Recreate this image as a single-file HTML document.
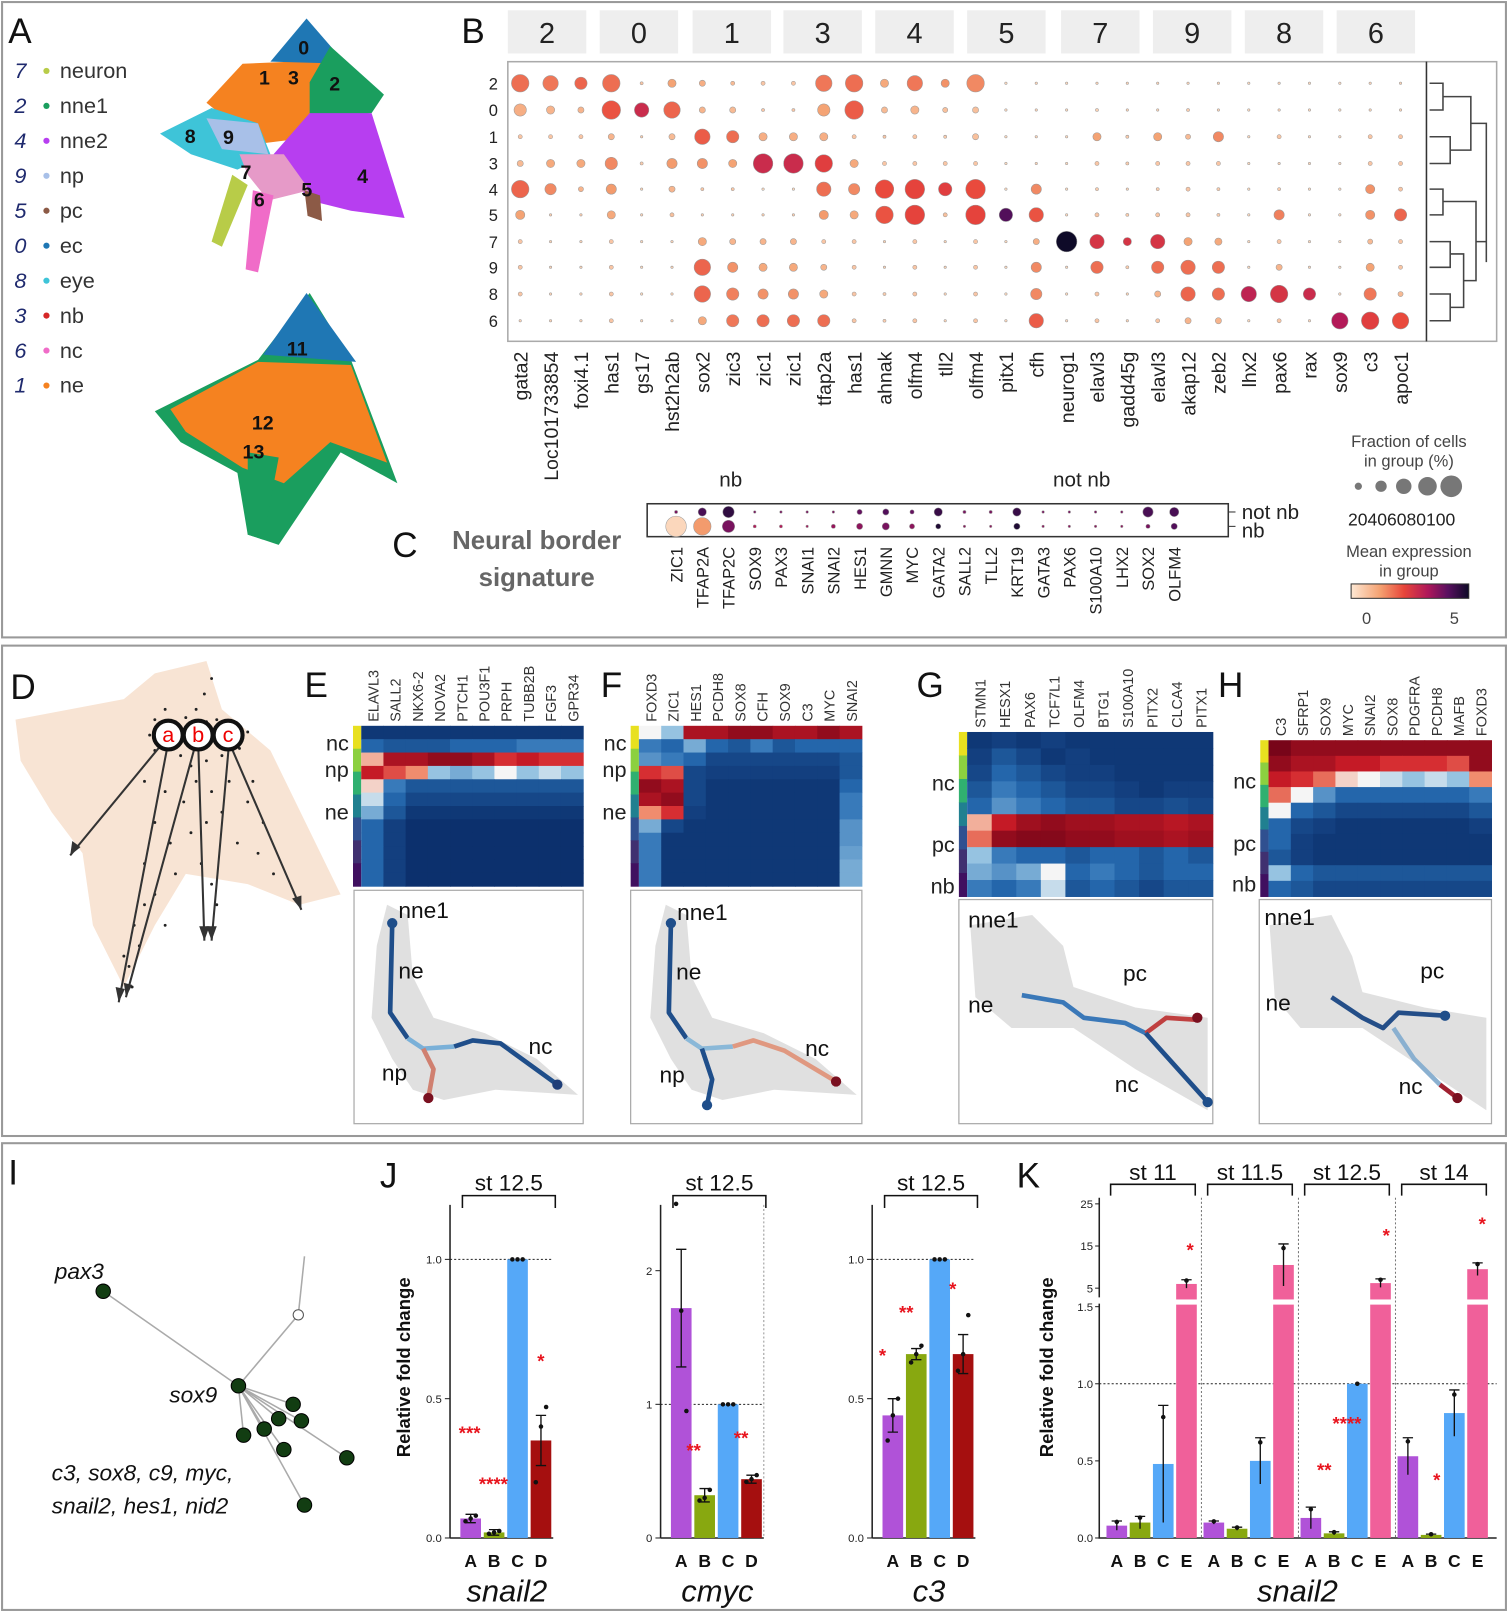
<!DOCTYPE html>
<html><head><meta charset="utf-8">
<style>
html,body{margin:0;padding:0;background:#fff;}
svg{display:block;font-family:"Liberation Sans",sans-serif;}
.pl{font-size:34px;fill:#111;}
</style></head>
<body>
<svg id="fig" width="1508" height="1612" viewBox="0 0 1461 1568" preserveAspectRatio="none" xmlns="http://www.w3.org/2000/svg">
<rect x="0" y="0" width="1461" height="1568" fill="#fff"/>
<rect x="2" y="2" width="1457" height="618" fill="none" stroke="#999" stroke-width="2"/>
<rect x="2" y="628" width="1457" height="477" fill="none" stroke="#999" stroke-width="2"/>
<rect x="2" y="1112" width="1457" height="454" fill="none" stroke="#999" stroke-width="2"/>

<!-- Panel A -->
<text class="pl" x="8" y="42">A</text>
<g>
<polygon points="250,140 200,100 235,62 330,58 345,100 290,135" fill="#f58220"/>
<polygon points="297,18 262,60 335,62" fill="#1f77b4"/>
<polygon points="320,45 372,92 360,110 300,115 300,80" fill="#1a9e5e"/>
<polygon points="300,110 360,110 392,212 340,205 300,195 265,150" fill="#b73ef0"/>
<polygon points="155,130 205,105 250,120 262,150 230,165 185,150" fill="#3ec4d8"/>
<polygon points="200,115 250,120 260,150 215,145" fill="#a8c0e8"/>
<polygon points="232,150 275,150 300,185 260,195 240,170" fill="#e69ac8"/>
<polygon points="245,185 265,190 250,265 238,262" fill="#f06cc8"/>
<polygon points="225,170 240,180 215,240 205,235" fill="#b8cc48"/>
<polygon points="295,185 310,190 312,215 298,210" fill="#8c5a46"/>
</g>
<g font-size="19" font-weight="bold" fill="#111">
<text x="289" y="53">0</text><text x="251" y="82">1</text><text x="279" y="82">3</text><text x="319" y="88">2</text>
<text x="179" y="139">8</text><text x="216" y="140">9</text><text x="233" y="174">7</text><text x="246" y="201">6</text>
<text x="292" y="191">5</text><text x="346" y="178">4</text>
</g>
<g>
<polygon points="150,400 250,350 300,285 340,350 385,470 330,440 270,530 240,520 230,460 175,430" fill="#1a9e5e"/>
<polygon points="165,398 250,352 340,355 375,450 320,430 275,470 235,455 180,420" fill="#f58220"/>
<polygon points="297,285 255,345 345,352" fill="#1f77b4"/>
<polygon points="240,440 270,445 255,525 240,520" fill="#1a9e5e"/>
</g>
<g font-size="19" font-weight="bold" fill="#111">
<text x="278" y="346">11</text><text x="244" y="418">12</text><text x="235" y="446">13</text>
</g>
<g font-size="21">
<g font-style="italic" fill="#1f2a6e"><text x="14" y="76">7</text><text x="14" y="110">2</text><text x="14" y="144">4</text><text x="14" y="178">9</text><text x="14" y="212">5</text><text x="14" y="246">0</text><text x="14" y="280">8</text><text x="14" y="314">3</text><text x="14" y="348">6</text><text x="14" y="382">1</text></g>
<circle cx="45" cy="69" r="3" fill="#b8cc48"/><circle cx="45" cy="103" r="3" fill="#1a9e5e"/><circle cx="45" cy="137" r="3" fill="#b73ef0"/><circle cx="45" cy="171" r="3" fill="#a8c0e8"/><circle cx="45" cy="205" r="3" fill="#8c5a46"/><circle cx="45" cy="239" r="3" fill="#1f77b4"/><circle cx="45" cy="273" r="3" fill="#3ec4d8"/><circle cx="45" cy="307" r="3" fill="#d62728"/><circle cx="45" cy="341" r="3" fill="#f06cc8"/><circle cx="45" cy="375" r="3" fill="#f58220"/>
<g fill="#333"><text x="58" y="76">neuron</text><text x="58" y="110">nne1</text><text x="58" y="144">nne2</text><text x="58" y="178">np</text><text x="58" y="212">pc</text><text x="58" y="246">ec</text><text x="58" y="280">eye</text><text x="58" y="314">nb</text><text x="58" y="348">nc</text><text x="58" y="382">ne</text></g>
</g>

<!-- Panel B -->
<text class="pl" x="447" y="42">B</text>
<rect x="492" y="60" width="958" height="272" fill="none" stroke="#aaa" stroke-width="1.5"/>
<line x1="1382" y1="60" x2="1382" y2="332" stroke="#333" stroke-width="1.5"/>
<g id="bHeaders"></g>
<g id="bRows"></g>
<g id="bDots"></g>
<g id="bGenes"></g>
<g stroke="#444" stroke-width="1.5" fill="none">
<path d="M1385,81 H1398 V107 H1385 M1385,133 H1405 V159 H1385 M1398,94 H1425 V146 H1405 M1425,120 H1440 V255 M1385,184 H1398 V209 H1385 M1385,235 H1405 V260 H1385 M1385,286 H1405 V312 H1385 M1405,247 H1418 V299 H1405 M1398,196 H1430 V273 H1418 M1430,235 H1440"/>
</g>
<g font-size="16" fill="#444">
<text x="1365" y="435" text-anchor="middle">Fraction of cells</text>
<text x="1365" y="454" text-anchor="middle">in group (%)</text>
<circle cx="1316" cy="473" r="3.5" fill="#777"/><circle cx="1338" cy="473" r="5.5" fill="#777"/><circle cx="1360" cy="473" r="7.5" fill="#777"/><circle cx="1383" cy="473" r="9" fill="#777"/><circle cx="1406" cy="473" r="10.5" fill="#777"/>
<text x="1306" y="511" font-size="17" fill="#222">20406080100</text>
<text x="1365" y="542" text-anchor="middle">Mean expression</text>
<text x="1365" y="561" text-anchor="middle">in group</text>
<defs><linearGradient id="cmap" x1="0" x2="1"><stop offset="0" stop-color="#fde8d4"/><stop offset="0.25" stop-color="#f4a070"/><stop offset="0.45" stop-color="#e8453a"/><stop offset="0.65" stop-color="#b0185a"/><stop offset="0.82" stop-color="#5a1060"/><stop offset="1" stop-color="#0e0a28"/></linearGradient></defs>
<rect x="1309" y="568" width="114" height="14" fill="url(#cmap)" stroke="#333"/>
<text x="1324" y="607" text-anchor="middle">0</text><text x="1409" y="607" text-anchor="middle">5</text>
</g>

<!-- Panel C -->
<text class="pl" x="380" y="542">C</text>
<text x="520" y="534" font-size="25" font-weight="bold" fill="#666" text-anchor="middle">Neural border</text>
<text x="520" y="570" font-size="25" font-weight="bold" fill="#666" text-anchor="middle">signature</text>
<text x="708" y="473" font-size="20" fill="#222" text-anchor="middle">nb</text>
<text x="1048" y="473" font-size="20" fill="#222" text-anchor="middle">not nb</text>
<rect x="627" y="490" width="563" height="32" fill="none" stroke="#333" stroke-width="1.5"/>
<g font-size="20" fill="#222"><line x1="1190" y1="498" x2="1197" y2="498" stroke="#333"/><line x1="1190" y1="512" x2="1197" y2="512" stroke="#333"/><text x="1203" y="505">not nb</text><text x="1203" y="523">nb</text></g>
<g id="cDots"></g>
<g id="cGenes"></g>

<!-- Panel D -->
<text class="pl" x="10" y="680">D</text>
<polygon points="15,700 120,680 150,655 200,643 215,690 262,730 330,870 290,880 240,860 180,850 150,900 120,960 90,900 80,830 50,790 20,740" fill="#f8e4d4"/>
<g id="dDots" fill="#222"></g>
<g stroke="#333" stroke-width="2" fill="none">
<line x1="160" y1="720" x2="68" y2="832"/><line x1="163" y1="722" x2="115" y2="975"/><line x1="190" y1="722" x2="122" y2="970"/><line x1="192" y1="722" x2="198" y2="915"/><line x1="222" y1="722" x2="205" y2="915"/><line x1="222" y1="722" x2="292" y2="885"/>
</g>
<g fill="#333">
<polygon points="68,832 70,818 78,824"/><polygon points="115,975 112,960 121,962"/><polygon points="122,970 120,956 128,958"/><polygon points="198,915 193,901 203,901"/><polygon points="205,915 200,901 210,901"/><polygon points="292,885 283,874 292,871"/>
</g>
<g font-size="21" fill="#e00" text-anchor="middle">
<circle cx="163" cy="715" r="14" fill="#fff" stroke="#111" stroke-width="4"/><circle cx="192" cy="715" r="14" fill="#fff" stroke="#111" stroke-width="4"/><circle cx="221" cy="715" r="14" fill="#fff" stroke="#111" stroke-width="4"/>
<text x="163" y="722">a</text><text x="192" y="722">b</text><text x="221" y="722">c</text>
</g>

<!-- Panels E-H labels -->
<text class="pl" x="295" y="678">E</text>
<text class="pl" x="582" y="678">F</text>
<text class="pl" x="888" y="678">G</text>
<text class="pl" x="1180" y="678">H</text>
<g id="heat"></g>
<g id="traj"></g>

<!-- Panel I -->
<text class="pl" x="8" y="1152">I</text>
<g>
<g stroke="#aaa" stroke-width="1.5">
<line x1="100" y1="1256" x2="231" y2="1348"/><line x1="231" y1="1348" x2="289" y2="1279"/><line x1="289" y1="1279" x2="295" y2="1222"/>
<line x1="231" y1="1348" x2="284" y2="1366"/><line x1="231" y1="1348" x2="270" y2="1380"/><line x1="231" y1="1348" x2="292" y2="1382"/><line x1="231" y1="1348" x2="256" y2="1390"/><line x1="231" y1="1348" x2="236" y2="1396"/><line x1="231" y1="1348" x2="275" y2="1410"/><line x1="231" y1="1348" x2="336" y2="1418"/><line x1="231" y1="1348" x2="295" y2="1464"/>
</g>
<g fill="#123d12" stroke="#000" stroke-width="1">
<circle cx="100" cy="1256" r="7"/><circle cx="231" cy="1348" r="7"/><circle cx="284" cy="1366" r="7"/><circle cx="270" cy="1380" r="7"/><circle cx="292" cy="1382" r="7"/><circle cx="256" cy="1390" r="7"/><circle cx="236" cy="1396" r="7"/><circle cx="275" cy="1410" r="7"/><circle cx="336" cy="1418" r="7"/><circle cx="295" cy="1464" r="7"/>
</g>
<circle cx="289" cy="1279" r="5" fill="#fff" stroke="#555"/>
<g font-size="22" font-style="italic" fill="#111"><text x="53" y="1244">pax3</text><text x="164" y="1364">sox9</text><text x="50" y="1440">c3, sox8, c9, myc,</text><text x="50" y="1472">snail2, hes1, nid2</text></g>
</g>

<!-- Panel J / K -->
<text class="pl" x="368" y="1155">J</text>
<text class="pl" x="985" y="1155">K</text>
<text transform="translate(397,1330) rotate(-90)" text-anchor="middle" font-size="18" font-weight="bold" fill="#111">Relative fold change</text>
<text transform="translate(1020,1330) rotate(-90)" text-anchor="middle" font-size="18" font-weight="bold" fill="#111">Relative fold change</text>
<g id="bars"></g>
</svg>

<script>
var NS='http://www.w3.org/2000/svg';
function mk(tag,attrs,parent,txt){var e=document.createElementNS(NS,tag);for(var k in attrs)e.setAttribute(k,attrs[k]);if(txt!==undefined)e.textContent=txt;parent.appendChild(e);return e;}
function nm(e,name){


return e;}
function $(id){return document.getElementById(id);}

// ---------- Panel B data ----------
var bGroups=['2','0','1','3','4','5','7','9','8','6'];
var bRowsLab=['2','0','1','3','4','5','7','9','8','6'];
var bGenesLab=['gata2','Loc101733854','foxi4.1','has1','gs17','hst2h2ab','sox2','zic3','zic1','zic1','tfap2a','has1','ahnak','olfm4','tll2','olfm4','pitx1','cfh','neurog1','elavl3','gadd45g','elavl3','akap12','zeb2','lhx2','pax6','rax','sox9','c3','apoc1'];
var bFrac=[
[85,75,60,85,15,40,30,20,20,20,80,85,40,75,40,85,5,10,5,10,10,10,10,10,5,10,5,5,10,10],
[60,40,30,90,70,80,30,30,15,15,60,90,30,40,25,30,5,10,5,15,10,10,15,10,5,10,5,5,10,10],
[20,20,20,30,10,30,75,60,40,40,40,20,15,20,15,30,5,10,5,40,15,40,25,50,5,20,5,5,20,20],
[30,40,40,60,15,50,50,40,95,95,85,40,20,20,20,20,5,10,5,20,15,20,20,20,5,10,5,5,20,20],
[85,55,25,50,10,30,15,15,5,5,70,55,90,95,65,95,5,50,5,15,10,15,20,15,5,15,5,5,45,20],
[45,10,10,40,10,20,10,10,10,10,45,40,85,95,20,95,65,70,5,20,15,20,20,15,5,50,5,5,45,60],
[20,10,10,20,5,10,40,30,30,30,20,20,10,20,10,20,5,30,100,70,40,70,40,35,5,20,5,5,25,20],
[20,10,10,20,5,10,80,50,40,40,30,20,10,20,10,20,5,50,5,60,15,60,70,60,5,30,5,5,40,20],
[20,10,10,20,5,10,80,60,50,50,40,20,15,20,10,20,5,55,5,20,10,30,70,60,75,85,60,5,60,25],
[10,10,10,20,5,10,40,60,60,60,60,20,15,20,10,20,5,70,5,20,10,20,30,30,5,20,5,80,85,80]];
var bExpr=[
[1.8,1.7,1.9,1.8,0.6,1.2,1.0,0.8,0.6,0.6,1.7,1.8,1.1,1.7,1.4,1.5,0.3,0.4,0.3,0.4,0.4,0.4,0.4,0.4,0.3,0.4,0.3,0.3,0.4,0.4],
[1.0,0.9,0.9,2.1,2.8,1.9,0.9,0.8,0.6,0.6,1.2,2.0,0.8,0.9,0.7,0.7,0.3,0.4,0.3,0.4,0.4,0.4,0.5,0.4,0.3,0.4,0.3,0.3,0.4,0.4],
[0.6,0.6,0.6,0.9,0.5,0.8,2.0,1.8,1.0,1.0,1.0,0.6,0.6,0.6,0.5,0.7,0.3,0.4,0.3,1.2,0.5,1.2,0.8,1.5,0.3,0.6,0.3,0.3,0.6,0.6],
[0.8,1.1,1.1,1.5,0.5,1.3,1.4,1.2,2.8,2.8,2.4,1.1,0.6,0.6,0.6,0.6,0.3,0.4,0.3,0.6,0.5,0.6,0.6,0.6,0.3,0.4,0.3,0.3,0.6,0.6],
[1.9,1.5,0.9,1.3,0.4,0.9,0.6,0.6,0.3,0.3,1.8,1.5,2.2,2.3,2.4,2.2,0.3,1.5,0.3,0.5,0.4,0.5,0.6,0.5,0.3,0.5,0.3,0.3,1.4,0.6],
[1.2,0.5,0.5,1.1,0.4,0.7,0.5,0.5,0.5,0.5,1.3,1.1,2.1,2.3,0.7,2.3,4.2,2.1,0.3,0.6,0.5,0.6,0.6,0.5,0.3,1.6,0.3,0.3,1.4,1.9],
[0.6,0.4,0.4,0.6,0.3,0.4,1.1,0.9,0.9,0.9,0.6,0.6,0.4,0.6,0.4,0.6,0.3,1.0,5.0,2.6,2.6,2.6,1.2,1.1,0.3,0.6,0.3,0.3,0.8,0.6],
[0.6,0.4,0.4,0.6,0.3,0.4,1.9,1.4,1.1,1.1,0.9,0.6,0.4,0.6,0.4,0.6,0.3,1.5,0.3,1.8,0.5,1.8,1.8,1.8,0.3,0.9,0.3,0.3,1.2,0.6],
[0.6,0.4,0.4,0.6,0.3,0.4,1.9,1.6,1.4,1.4,1.1,0.6,0.5,0.6,0.4,0.6,0.3,1.5,0.3,0.6,0.4,0.9,1.9,1.8,3.0,2.6,2.8,0.3,1.7,0.8],
[0.4,0.4,0.4,0.6,0.3,0.4,1.1,1.7,1.8,1.8,1.8,0.6,0.5,0.6,0.4,0.6,0.3,2.0,0.3,0.6,0.4,0.6,0.9,0.9,0.3,0.6,0.3,3.2,2.4,2.2]];

// ---------- Panel C data ----------
var cGenesLab=['ZIC1','TFAP2A','TFAP2C','SOX9','PAX3','SNAI1','SNAI2','HES1','GMNN','MYC','GATA2','SALL2','TLL2','KRT19','GATA3','PAX6','S100A10','LHX2','SOX2','OLFM4'];
var cFracNot=[15,40,55,10,8,5,12,25,30,20,40,15,15,40,12,10,8,8,50,45];
var cExprNot=[3.8,4.3,4.6,3.8,3.8,3.8,3.8,4.0,4.2,4.0,4.5,3.8,3.8,4.5,3.8,3.8,3.8,3.8,4.3,4.3];
var cFracNb=[100,85,60,15,15,8,20,30,35,25,25,10,10,30,10,8,5,5,20,30];
var cExprNb=[0.3,1.3,3.8,3.2,3.2,3.4,3.5,3.6,3.8,3.6,4.8,3.6,3.6,4.8,3.6,3.6,3.6,3.6,3.8,4.2];

function lerpC(stops,t){
  if(t<=stops[0][0])return stops[0][1];
  for(var i=1;i<stops.length;i++){if(t<=stops[i][0]){var a=stops[i-1],b=stops[i],f=(t-a[0])/(b[0]-a[0]);
    var r=[0,1,2].map(function(j){return Math.round(a[1][j]+(b[1][j]-a[1][j])*f);});return 'rgb('+r.join(',')+')';
    }}
  var l=stops[stops.length-1][1];return 'rgb('+l.join(',')+')';
}
function fix(s){return s.map(function(x){return [x[0],x[1]];});}
var magma=[[0,[253,232,212]],[1.25,[244,160,112]],[2.25,[232,69,58]],[3.25,[176,24,90]],[4.1,[90,16,96]],[5,[14,10,40]]];
function cmapM(v){var c=lerpC(magma,v);return typeof c==='string'?c:'rgb('+c.join(',')+')';}
var rdbu=[[-1,[8,40,100]],[-0.55,[40,110,180]],[-0.2,[150,195,225]],[0,[245,245,245]],[0.3,[240,140,110]],[0.65,[210,30,40]],[1,[120,5,25]]];
function cmapR(v){var c=lerpC(rdbu,v);return typeof c==='string'?c:'rgb('+c.join(',')+')';}

// axis functions panel B
var bX0=504,bDX=29.41,bRowY=[81,107,133,159,184,209,235,260,286,312];
function bx(i){return bX0+i*bDX;}
function rad(f){return Math.max(1.2,f/10);}
(function(){
 var hc=[530,619,709,797,886,975,1066,1155,1244,1333];
 bGroups.forEach(function(g,i){var r=mk('rect',{x:hc[i]-38,y:10,width:76,height:42,fill:'#eeeeee'},$('bHeaders'));nm(r,'group-header-box');
  var t=mk('text',{x:hc[i],y:42,'font-size':28,'text-anchor':'middle',fill:'#222'},$('bHeaders'),g);nm(t,'group-header-label');});
 bRowsLab.forEach(function(l,i){var t=mk('text',{x:478,y:bRowY[i]+6,'font-size':16,'text-anchor':'middle',fill:'#222'},$('bRows'),l);nm(t,'row-label');});
 bGenesLab.forEach(function(g,i){var t=mk('text',{transform:'translate('+(bx(i)+7)+',342) rotate(-90)','font-size':19,'text-anchor':'end',fill:'#222'},$('bGenes'),g);nm(t,'gene-label');});
 for(var r=0;r<bFrac.length;r++)for(var c=0;c<bFrac[r].length;c++){
  var d=mk('circle',{cx:bx(c),cy:bRowY[r],r:rad(bFrac[r][c]),fill:cmapM(bExpr[r][c]),stroke:'#999','stroke-width':0.5},$('bDots'));nm(d,'dot');}
 // panel C
 var cX0=655,cDX=25.4;
 cGenesLab.forEach(function(g,i){var x=cX0+i*cDX;
  var d1=mk('circle',{cx:x,cy:498,r:Math.max(1.2,cFracNot[i]/10),fill:cmapM(cExprNot[i]),stroke:'#999','stroke-width':0.5},$('cDots'));nm(d1,'dot-not-nb');
  var d2=mk('circle',{cx:x,cy:512,r:Math.max(1.2,cFracNb[i]/10),fill:cmapM(cExprNb[i]),stroke:'#999','stroke-width':0.5},$('cDots'));nm(d2,'dot-nb');
  var t=mk('text',{transform:'translate('+(x+6)+',532) rotate(-90)','font-size':16,'text-anchor':'end',fill:'#222'},$('cGenes'),g);nm(t,'signature-gene-label');});
})();

// Panel D scatter cells (positions are decoration)
(function(){var pts=[[150,700],[158,708],[170,702],[180,698],[200,702],[210,700],[230,705],[240,712],[145,715],[150,730],[175,735],[185,745],[200,740],[215,735],[232,728],[140,760],[160,770],[178,780],[190,760],[205,770],[222,760],[150,800],[165,820],[185,810],[200,800],[215,790],[240,780],[255,800],[140,840],[150,870],[160,900],[170,850],[195,840],[205,860],[130,900],[125,940],[135,920],[250,830],[265,850],[160,690],[190,690],[205,660],[198,675],[120,930],[140,880],[230,820],[210,880],[245,760],[170,720],[128,960]];
pts.forEach(function(p){var c=mk('circle',{cx:p[0],cy:p[1],r:1.4},$('dDots'));nm(c,'cell-dot');});})();

// ---------- Heatmaps ----------
var heatE=[
[-.9,-.9,-.9,-.9,-.9,-.9,-.9,-.9,-.9,-.9],
[-.6,-.7,-.7,-.7,-.6,-.6,-.6,-.5,-.5,-.5],
[.2,.8,.8,.9,.9,.8,.6,.7,.6,.6],
[.7,.5,.3,-.2,-.3,-.2,0,-.2,-.1,-.2],
[.1,-.5,-.7,-.7,-.7,-.7,-.7,-.7,-.7,-.7],
[-.1,-.6,-.8,-.8,-.8,-.8,-.8,-.8,-.8,-.8],
[-.3,-.7,-.9,-.9,-.9,-.9,-.9,-.9,-.9,-.9],
[-.6,-.85,-.95,-.95,-.95,-.95,-.95,-.95,-.95,-.95],
[-.6,-.85,-.95,-.95,-.95,-.95,-.95,-.95,-.95,-.95],
[-.6,-.85,-.95,-.95,-.95,-.95,-.95,-.95,-.95,-.95],
[-.6,-.85,-.95,-.95,-.95,-.95,-.95,-.95,-.95,-.95],
[-.6,-.85,-.95,-.95,-.95,-.95,-.95,-.95,-.95,-.95]];
var heatF=[
[0,-.2,.8,.8,.9,.9,.8,.8,.9,.8],
[-.5,-.6,-.3,-.6,-.7,-.5,-.7,-.6,-.6,-.6],
[-.4,-.5,-.6,-.8,-.8,-.8,-.8,-.8,-.8,-.7],
[.6,.5,-.8,-.85,-.85,-.85,-.85,-.85,-.85,-.7],
[.9,.8,-.8,-.9,-.9,-.9,-.9,-.9,-.9,-.6],
[.8,.9,-.8,-.9,-.9,-.9,-.9,-.9,-.9,-.5],
[.3,.6,-.85,-.9,-.9,-.9,-.9,-.9,-.9,-.5],
[-.3,-.8,-.9,-.9,-.9,-.9,-.9,-.9,-.9,-.4],
[-.5,-.9,-.9,-.9,-.9,-.9,-.9,-.9,-.9,-.4],
[-.5,-.9,-.9,-.9,-.9,-.9,-.9,-.9,-.9,-.35],
[-.5,-.9,-.9,-.9,-.9,-.9,-.9,-.9,-.9,-.3],
[-.5,-.9,-.9,-.9,-.9,-.9,-.9,-.9,-.9,-.3]];
var heatG=[
[-.9,-.85,-.9,-.85,-.9,-.9,-.9,-.9,-.9,-.9],
[-.85,-.7,-.8,-.9,-.85,-.9,-.9,-.9,-.9,-.9],
[-.8,-.6,-.7,-.8,-.85,-.85,-.9,-.9,-.9,-.9],
[-.7,-.5,-.6,-.7,-.8,-.8,-.85,-.9,-.85,-.85],
[-.6,-.4,-.5,-.6,-.7,-.7,-.8,-.8,-.75,-.8],
[.2,.7,.85,.9,.85,.85,.8,.8,.75,.8],
[.4,.9,.95,.95,.9,.9,.85,.85,.8,.85],
[-.2,-.5,-.6,-.6,-.7,-.6,-.6,-.7,-.6,-.7],
[-.3,-.4,-.3,0,-.6,-.5,-.6,-.7,-.6,-.6],
[-.5,-.6,-.5,-.1,-.7,-.6,-.7,-.8,-.7,-.7]];
var heatH=[
[1,.9,.9,.9,.9,.9,.9,.9,.9,.9],
[.9,.8,.8,.7,.7,.6,.6,.6,.5,.9],
[.7,.6,.4,.1,0,-.1,-.2,-.1,-.2,.3],
[.4,0,-.4,-.6,-.6,-.6,-.6,-.6,-.6,-.5],
[0,-.6,-.7,-.8,-.8,-.8,-.8,-.8,-.8,-.7],
[-.6,-.8,-.85,-.9,-.9,-.9,-.9,-.9,-.9,-.85],
[-.6,-.85,-.9,-.9,-.9,-.9,-.9,-.9,-.9,-.9],
[-.7,-.85,-.9,-.9,-.9,-.9,-.9,-.9,-.9,-.9],
[-.2,-.6,-.7,-.7,-.7,-.7,-.7,-.7,-.7,-.7],
[-.6,-.7,-.8,-.8,-.8,-.8,-.8,-.8,-.8,-.8]];
var genesE=['ELAVL3','SALL2','NKX6-2','NOVA2','PTCH1','POU3F1','PRPH','TUBB2B','FGF3','GPR34'];
var genesF=['FOXD3','ZIC1','HES1','PCDH8','SOX8','CFH','SOX9','C3','MYC','SNAI2'];
var genesG=['STMN1','HESX1','PAX6','TCF7L1','OLFM4','BTG1','S100A10','PITX2','CLCA4','PITX1'];
var genesH=['C3','SFRP1','SOX9','MYC','SNAI2','SOX8','PDGFRA','PCDH8','MAFB','FOXD3'];
function heatmap(data,genes,x0,x1,y0,y1,labels,labY,name){
 var g=mk('g',{},$('heat'));nm(g,name);
 var cw=(x1-x0)/data[0].length,rh=(y1-y0)/data.length;
 // side strip
 var strip=['#e8e020','#8cd040','#30b070','#208090','#305090','#403070','#401060'];
 strip.forEach(function(c,i){var r=mk('rect',{x:x0-8,y:y0+i*(y1-y0)/strip.length,width:8,height:(y1-y0)/strip.length+0.5,fill:c},g);nm(r,'group-strip');});
 for(var r=0;r<data.length;r++)for(var c=0;c<data[r].length;c++){
  var e=mk('rect',{x:x0+c*cw,y:y0+r*rh,width:cw+0.5,height:rh+0.5,fill:cmapR(data[r][c])},g);nm(e,'heat-cell');}
 genes.forEach(function(s,i){var t=mk('text',{transform:'translate('+(x0+i*cw+cw/2+6)+','+(y0-4)+') rotate(-90)','font-size':14,fill:'#333'},g,s);nm(t,'heat-gene-label');});
 labels.forEach(function(l,i){var t=mk('text',{x:x0-12,y:labY[i],'font-size':21,'text-anchor':'end',fill:'#222'},g,l);nm(t,'heat-row-label');});
}
heatmap(heatE,genesE,350,565,706,862,['nc','np','ne'],[730,756,797],'heatmap-e');
heatmap(heatF,genesF,619,835,706,862,['nc','np','ne'],[730,756,797],'heatmap-f');
heatmap(heatG,genesG,937,1175,712,872,['nc','pc','nb'],[769,829,869],'heatmap-g');
heatmap(heatH,genesH,1229,1445,720,872,['nc','pc','nb'],[767,828,867],'heatmap-h');

// ---------- Trajectories ----------
function traj(bx0,by0,bx1,by1,cloud,segs,ends,labels,name){
 var g=mk('g',{},$('traj'));nm(g,name);
 var fr=mk('rect',{x:bx0,y:by0,width:bx1-bx0,height:by1-by0,fill:'#fff',stroke:'#aaa','stroke-width':1.2},g);nm(fr,'trajectory-frame');
 var cl=mk('polygon',{points:cloud,fill:'#d8d8d8',opacity:0.8},g);nm(cl,'cell-cloud');
 segs.forEach(function(s){var p=mk('polyline',{points:s[0],fill:'none',stroke:s[1],'stroke-width':4.5,'stroke-linejoin':'round'},g);nm(p,'trajectory-path');});
 ends.forEach(function(e){var c=mk('circle',{cx:e[0],cy:e[1],r:5,fill:e[2]},g);nm(c,'trajectory-end');});
 labels.forEach(function(l){var t=mk('text',{x:l[1],y:l[2],'font-size':22,fill:'#111'},g,l[0]);nm(t,'trajectory-label');});
}
traj(343,866,565,1093,'375,880 395,890 400,950 420,990 470,1005 520,1030 560,1065 480,1060 430,1070 400,1060 380,1030 360,990 365,920',
 [['380,898 378,985 395,1010','#1f4e8a'],['395,1010 410,1020 440,1018','#7ab0d8'],['440,1018 458,1012 485,1015 540,1055','#1f4e8a'],['410,1020 420,1040 415,1068','#d08070']],
 [[380,898,'#1f4e8a'],[540,1055,'#1f3e78'],[415,1068,'#7a1020']],[['nne1',386,893],['ne',386,952],['np',370,1051],['nc',512,1025]],'trajectory-e');
traj(611,866,835,1093,'645,880 665,890 670,950 690,990 740,1005 790,1030 830,1065 750,1060 700,1070 670,1060 650,1030 630,990 635,920',
 [['650,898 648,985 665,1010','#1f4e8a'],['665,1010 680,1020 710,1018','#8ab8d8'],['710,1018 730,1012 760,1022 810,1052','#e09880'],['680,1020 690,1050 685,1075','#1f4e8a']],
 [[650,898,'#1f4e8a'],[810,1052,'#7a1020'],[685,1075,'#1f4e8a']],[['nne1',656,895],['ne',655,953],['np',639,1053],['nc',780,1027]],'trajectory-f');
traj(929,875,1175,1093,'940,900 1000,890 1030,920 1040,960 1100,980 1170,990 1170,1080 1100,1040 1040,1000 980,1000 945,970',
 [['990,968 1030,975 1050,990 1090,995 1110,1005','#3a78b8'],['1110,1005 1130,990 1160,992','#c04040'],['1110,1005 1170,1072','#1f4e8a']],
 [[1160,990,'#7a1020'],[1170,1072,'#1f4e8a']],[['nne1',938,902],['ne',938,985],['pc',1088,954],['nc',1080,1062]],'trajectory-g');
traj(1220,875,1445,1093,'1230,900 1290,890 1310,930 1320,965 1380,980 1440,990 1440,1080 1380,1040 1320,1000 1260,1000 1235,970',
 [['1290,970 1320,990 1340,1000 1355,985 1400,988','#244e88'],['1350,1000 1370,1030 1395,1055','#8ab0d0'],['1395,1055 1412,1068','#a02030']],
 [[1400,988,'#1f4e8a'],[1412,1068,'#7a1020']],[['nne1',1225,900],['ne',1226,983],['pc',1376,952],['nc',1355,1064]],'trajectory-h');

// ---------- Panel J data ----------
var jCats=['A','B','C','D'];
var jColors=['#b052d8','#88a810','#55a8f8','#a50f0f'];
var snail2Vals=[0.07,0.02,1.0,0.35];
var snail2Err=[0.015,0.01,0,0.09];
var snail2Pts=[[0.06,0.07,0.08],[0.015,0.02,0.025],[1,1,1],[0.2,0.4,0.47]];
var cmycVals=[1.72,0.32,1.0,0.44];
var cmycErr=[0.44,0.05,0,0.03];
var cmycPts=[[2.5,1.7,0.95],[0.28,0.3,0.36],[1,1,1],[0.42,0.44,0.47]];
var c3Vals=[0.44,0.66,1.0,0.66];
var c3Err=[0.06,0.02,0,0.07];
var c3Pts=[[0.35,0.44,0.5],[0.63,0.66,0.69],[1,1,1],[0.6,0.66,0.8]];
var snail2Ticks=['0.0','0.5','1.0'];
var snail2TickV=[0,0.5,1];
var cmycTickV=[0,1,2];
var cmycTicks=['0','1','2'];

function jChart(ax,y0,pxPerUnit,ymaxPx,vals,err,pts,tickV,ticks,stars,gene,rightDotted){
 var g=mk('g',{},$('bars'));nm(g,'bar-chart-'+gene);
 function y(v){return y0-v*pxPerUnit;}
 var a=mk('line',{x1:ax,y1:ymaxPx,x2:ax,y2:y0,stroke:'#222','stroke-width':1.5},g);nm(a,'y-axis');
 var b=mk('line',{x1:ax,y1:y0,x2:ax+100,y2:y0,stroke:'#222','stroke-width':1.5},g);nm(b,'x-axis');
 tickV.forEach(function(v,i){var t=mk('line',{x1:ax-5,y1:y(v),x2:ax,y2:y(v),stroke:'#222'},g);nm(t,'y-tick');
  var l=mk('text',{x:ax-8,y:y(v)+4,'font-size':11,'text-anchor':'end',fill:'#222'},g,ticks[i]);nm(l,'y-tick-label');});
 var ref=mk('line',{x1:ax,y1:y(1),x2:ax+100,y2:y(1),stroke:'#222','stroke-dasharray':'2,2'},g);nm(ref,'reference-line');
 if(rightDotted){var rd=mk('line',{x1:ax+100,y1:ymaxPx,x2:ax+100,y2:y0,stroke:'#999','stroke-dasharray':'2,2'},g);nm(rd,'divider');}
 vals.forEach(function(v,i){var cx=ax+20+i*22.7;
  var r=mk('rect',{x:cx-10,y:y(v),width:20,height:y0-y(v),fill:jColors[i]},g);nm(r,'bar-'+jCats[i]);
  if(err[i]>0){var e=mk('path',{d:'M'+cx+','+y(v+err[i])+'V'+y(v-err[i])+'M'+(cx-5)+','+y(v+err[i])+'h10M'+(cx-5)+','+y(v-err[i])+'h10',stroke:'#111','stroke-width':1.3,fill:'none'},g);nm(e,'error-bar');}
  pts[i].forEach(function(p,k){var d=mk('circle',{cx:cx-5+k*5,cy:y(p),r:2.2,fill:'#111'},g);nm(d,'replicate-point');});
  var t=mk('text',{x:cx,y:1524,'font-size':17,'font-weight':'bold','text-anchor':'middle',fill:'#111'},g,jCats[i]);nm(t,'x-tick-label');
 });
 stars.forEach(function(s){var t=mk('text',{x:s[1],y:s[2],'font-size':18,'font-weight':'bold',fill:'#e8141e','text-anchor':'middle'},g,s[0]);nm(t,'significance');});
 var gt=mk('text',{x:ax+55,y:1558,'font-size':30,'font-style':'italic','text-anchor':'middle',fill:'#111'},g,gene);nm(gt,'gene-title');
 var br=mk('path',{d:'M'+(ax+12)+',1175V1163H'+(ax+102)+'V1175',fill:'none',stroke:'#111','stroke-width':1.5},g);nm(br,'stage-bracket');
 var st=mk('text',{x:ax+57,y:1158,'font-size':22,'text-anchor':'middle',fill:'#111'},g,'st 12.5');nm(st,'stage-label');
}
jChart(436,1496,271,1172,snail2Vals,snail2Err,snail2Pts,snail2TickV,snail2Ticks,[['***',455,1400],['****',478,1450],['*',524,1330]],'snail2',false);
jChart(640,1496,130,1172,cmycVals,cmycErr,cmycPts,cmycTickV,cmycTicks,[['**',672,1417],['**',718,1405]],'cmyc',true);
jChart(845,1496,271,1172,c3Vals,c3Err,c3Pts,snail2TickV,snail2Ticks,[['*',855,1325],['**',878,1283],['*',923,1260]],'c3',false);

// ---------- Panel K data ----------
var kStages=['st 11','st 11.5','st 12.5','st 14'];
var kCats=['A','B','C','E'];
var kColors=['#b052d8','#88a810','#55a8f8','#f0609a'];
var kVals=[[0.08,0.1,0.48,6],[0.1,0.06,0.5,10.5],[0.13,0.03,1.0,6.2],[0.53,0.02,0.81,9.5]];
var kErr=[[0.03,0.04,0.38,1],[0.01,0.01,0.15,5],[0.07,0.01,0,1],[0.12,0.005,0.15,1.5]];
var kLowTicks=['0.0','0.5','1.0','1.5'];
var kLowTickV=[0,0.5,1,1.5];
var kHighTicks=['5','15','25'];
var kHighTickV=[5,15,25];
(function(){
 var g=mk('g',{},$('bars'));nm(g,'bar-chart-snail2-stages');
 var ax=1065,y0=1496;
 function yl(v){return y0-v*150;}
 function yh(v){return 1253-(v-5)*4.1;}
 function yv(v){return v<=1.5?yl(v):yh(Math.max(v,3));}
 var a=mk('path',{d:'M'+ax+',1165V1262M'+ax+',1268V'+y0+'H1450',stroke:'#222','stroke-width':1.5,fill:'none'},g);nm(a,'axes');
 kLowTickV.forEach(function(v,i){var t=mk('text',{x:ax-6,y:yl(v)+4,'font-size':11,'text-anchor':'end',fill:'#222'},g,kLowTicks[i]);nm(t,'y-tick-label');var tk=mk('line',{x1:ax-4,y1:yl(v),x2:ax,y2:yl(v),stroke:'#222'},g);nm(tk,'y-tick');});
 kHighTickV.forEach(function(v,i){var t=mk('text',{x:ax-6,y:yh(v)+4,'font-size':11,'text-anchor':'end',fill:'#222'},g,kHighTicks[i]);nm(t,'y-tick-label');var tk=mk('line',{x1:ax-4,y1:yh(v),x2:ax,y2:yh(v),stroke:'#222'},g);nm(tk,'y-tick');});
 var ref=mk('line',{x1:ax,y1:yl(1),x2:1450,y2:yl(1),stroke:'#222','stroke-dasharray':'2,2'},g);nm(ref,'reference-line');
 kStages.forEach(function(s,si){var gx=ax+17+si*94;
  if(si>0){var d=mk('line',{x1:gx-12,y1:1165,x2:gx-12,y2:y0,stroke:'#777','stroke-dasharray':'2,2'},g);nm(d,'stage-divider');}
  var br=mk('path',{d:'M'+(gx-6)+',1163V1152H'+(gx+76)+'V1163',fill:'none',stroke:'#111','stroke-width':1.5},g);nm(br,'stage-bracket');
  var st=mk('text',{x:gx+35,y:1148,'font-size':22,'text-anchor':'middle',fill:'#111'},g,s);nm(st,'stage-label');
  kVals[si].forEach(function(v,i){var cx=gx+i*22.5;
   var r=mk('rect',{x:cx-10,y:yv(v),width:20,height:y0-yv(v),fill:kColors[i]},g);nm(r,'bar-'+kCats[i]);
   if(v>1.5){var gap=mk('rect',{x:cx-11,y:1264,width:22,height:5,fill:'#fff'},g);nm(gap,'axis-break-gap');}
   var e=kErr[si][i];
   if(e>0){var p=mk('path',{d:'M'+cx+','+yv(v+e)+'V'+yv(Math.max(v-e,0))+'M'+(cx-5)+','+yv(v+e)+'h10',stroke:'#111','stroke-width':1.3,fill:'none'},g);nm(p,'error-bar');}
   var pt=mk('circle',{cx:cx,cy:yv(v+e*0.8),r:2.2,fill:'#111'},g);nm(pt,'replicate-point');
   var t=mk('text',{x:cx,y:1524,'font-size':17,'font-weight':'bold','text-anchor':'middle',fill:'#111'},g,kCats[i]);nm(t,'x-tick-label');
  });
 });
 var stars=[['*',1153,1222],['*',1343,1208],['*',1436,1197],['**',1283,1436],['****',1305,1391],['*',1392,1446]];
 stars.forEach(function(s){var t=mk('text',{x:s[1],y:s[2],'font-size':18,'font-weight':'bold',fill:'#e8141e','text-anchor':'middle'},g,s[0]);nm(t,'significance');});
 var gt=mk('text',{x:1257,y:1558,'font-size':30,'font-style':'italic','text-anchor':'middle',fill:'#111'},g,'snail2');nm(gt,'gene-title');
})();
</script>
</body></html>
